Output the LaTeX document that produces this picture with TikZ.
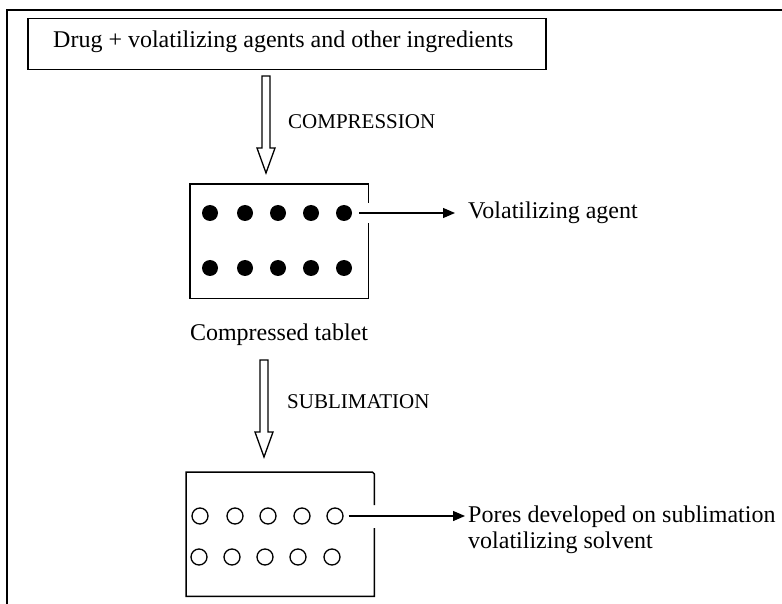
\documentclass[tikz,border=0pt]{standalone}
\usepackage{fontspec}
\setmainfont{Liberation Serif}
\usetikzlibrary{arrows.meta,calc}
\begin{document}
\begin{tikzpicture}[x=1pt,y=-1pt,
  frame/.style={line width=2.2pt},
  boxline/.style={line width=1.5pt},
  txt/.style={font=\fontsize{24}{26}\selectfont, inner sep=0pt},
  caplbl/.style={font=\fontsize{21}{24}\selectfont, inner sep=0pt},
  hollow/.style={draw, line width=1.3pt, fill=white, line join=miter},
  pointer/.style={line width=1.3pt, -{Triangle[length=12pt,width=10pt]}},
  grain/.style={fill=black, circle, minimum size=16pt, inner sep=0pt},
  pore/.style={draw, circle, line width=1.3pt, minimum size=16pt, inner sep=0pt}
]
\newcommand{\hollowarrow}[2]{%
  \draw[hollow] ($(#1)+(-4,0)$) -- ($(#1)+(4,0)$) -- ($(#2)+(4,-25)$)
    -- ($(#2)+(9,-25)$) -- (#2) -- ($(#2)+(-9,-25)$) -- ($(#2)+(-4,-25)$) -- cycle;}

\fill[white] (0,0) rectangle (782,604);
\useasboundingbox (0,0) rectangle (782,604);

% outer frame: top and left edges
\draw[frame] (782,10) -- (7,10) -- (7,604);

% starting mixture
\node[draw, boxline, anchor=north west, minimum width=518pt, minimum height=51pt,
      inner sep=0pt] (mix) at (27,18) {};
\node[txt, anchor=base west] (mixtxt) at (53,48)
  {Drug + volatilizing agents and other ingredients};

% compression step
\coordinate (c1s) at (266,76);
\coordinate (c1e) at (266,173);
\hollowarrow{c1s}{c1e}
\node[caplbl, anchor=west] (comp) at (288,122) {COMPRESSION};

% compressed tablet
\node[anchor=north west, minimum width=178pt, minimum height=114pt, inner sep=0pt] (tab) at (190,184) {};
\draw[boxline] ($(tab.north east)+(0,19)$) -- (tab.north east) -- (tab.north west)
  -- (tab.south west) -- (tab.south east) -- ($(tab.north east)+(0,39)$);
\foreach \i/\x in {1/210,2/245,3/278,4/311,5/344}{
  \node[grain] (da\i) at (\x,213) {};
  \node[grain] (db\i) at (\x,268) {};
}
\node[txt, anchor=west, inner xsep=13pt] (vol) at (455,213) {Volatilizing agent};
\draw[pointer, shorten <=7pt] (da5.east) -- (da5.east -| vol.west);
\node[txt] (ctab) at (279,335) {Compressed tablet};

% sublimation step
\coordinate (c2s) at (264,360);
\coordinate (c2e) at (264,457);
\hollowarrow{c2s}{c2e}
\node[caplbl, anchor=west] (subl) at (287,402) {SUBLIMATION};

% porous tablet
\node[anchor=north west, minimum width=188pt, minimum height=124pt, inner sep=0pt] (ptab) at (186,472) {};
\draw[boxline] ($(ptab.north east)+(0,33)$) -- ([yshift=-2pt]ptab.north east)
  -- ([xshift=-2pt]ptab.north east) -- (ptab.north west)
  -- (ptab.south west) -- (ptab.south east) -- ($(ptab.north east)+(0,56)$);
\foreach \i/\x/\xx in {1/200/199,2/235/232,3/268/265,4/302/298,5/335/332}{
  \node[pore] (pa\i) at (\x,516) {};
  \node[pore] (pb\i) at (\xx,557) {};
}
\node[txt, anchor=north west, align=left, inner xsep=3pt] (pores) at (465,506)
  {Pores developed on sublimation\\volatilizing solvent};
\draw[pointer, shorten <=5pt] (pa5.east) -- (pa5.east -| pores.west);
\end{tikzpicture}
\end{document}
